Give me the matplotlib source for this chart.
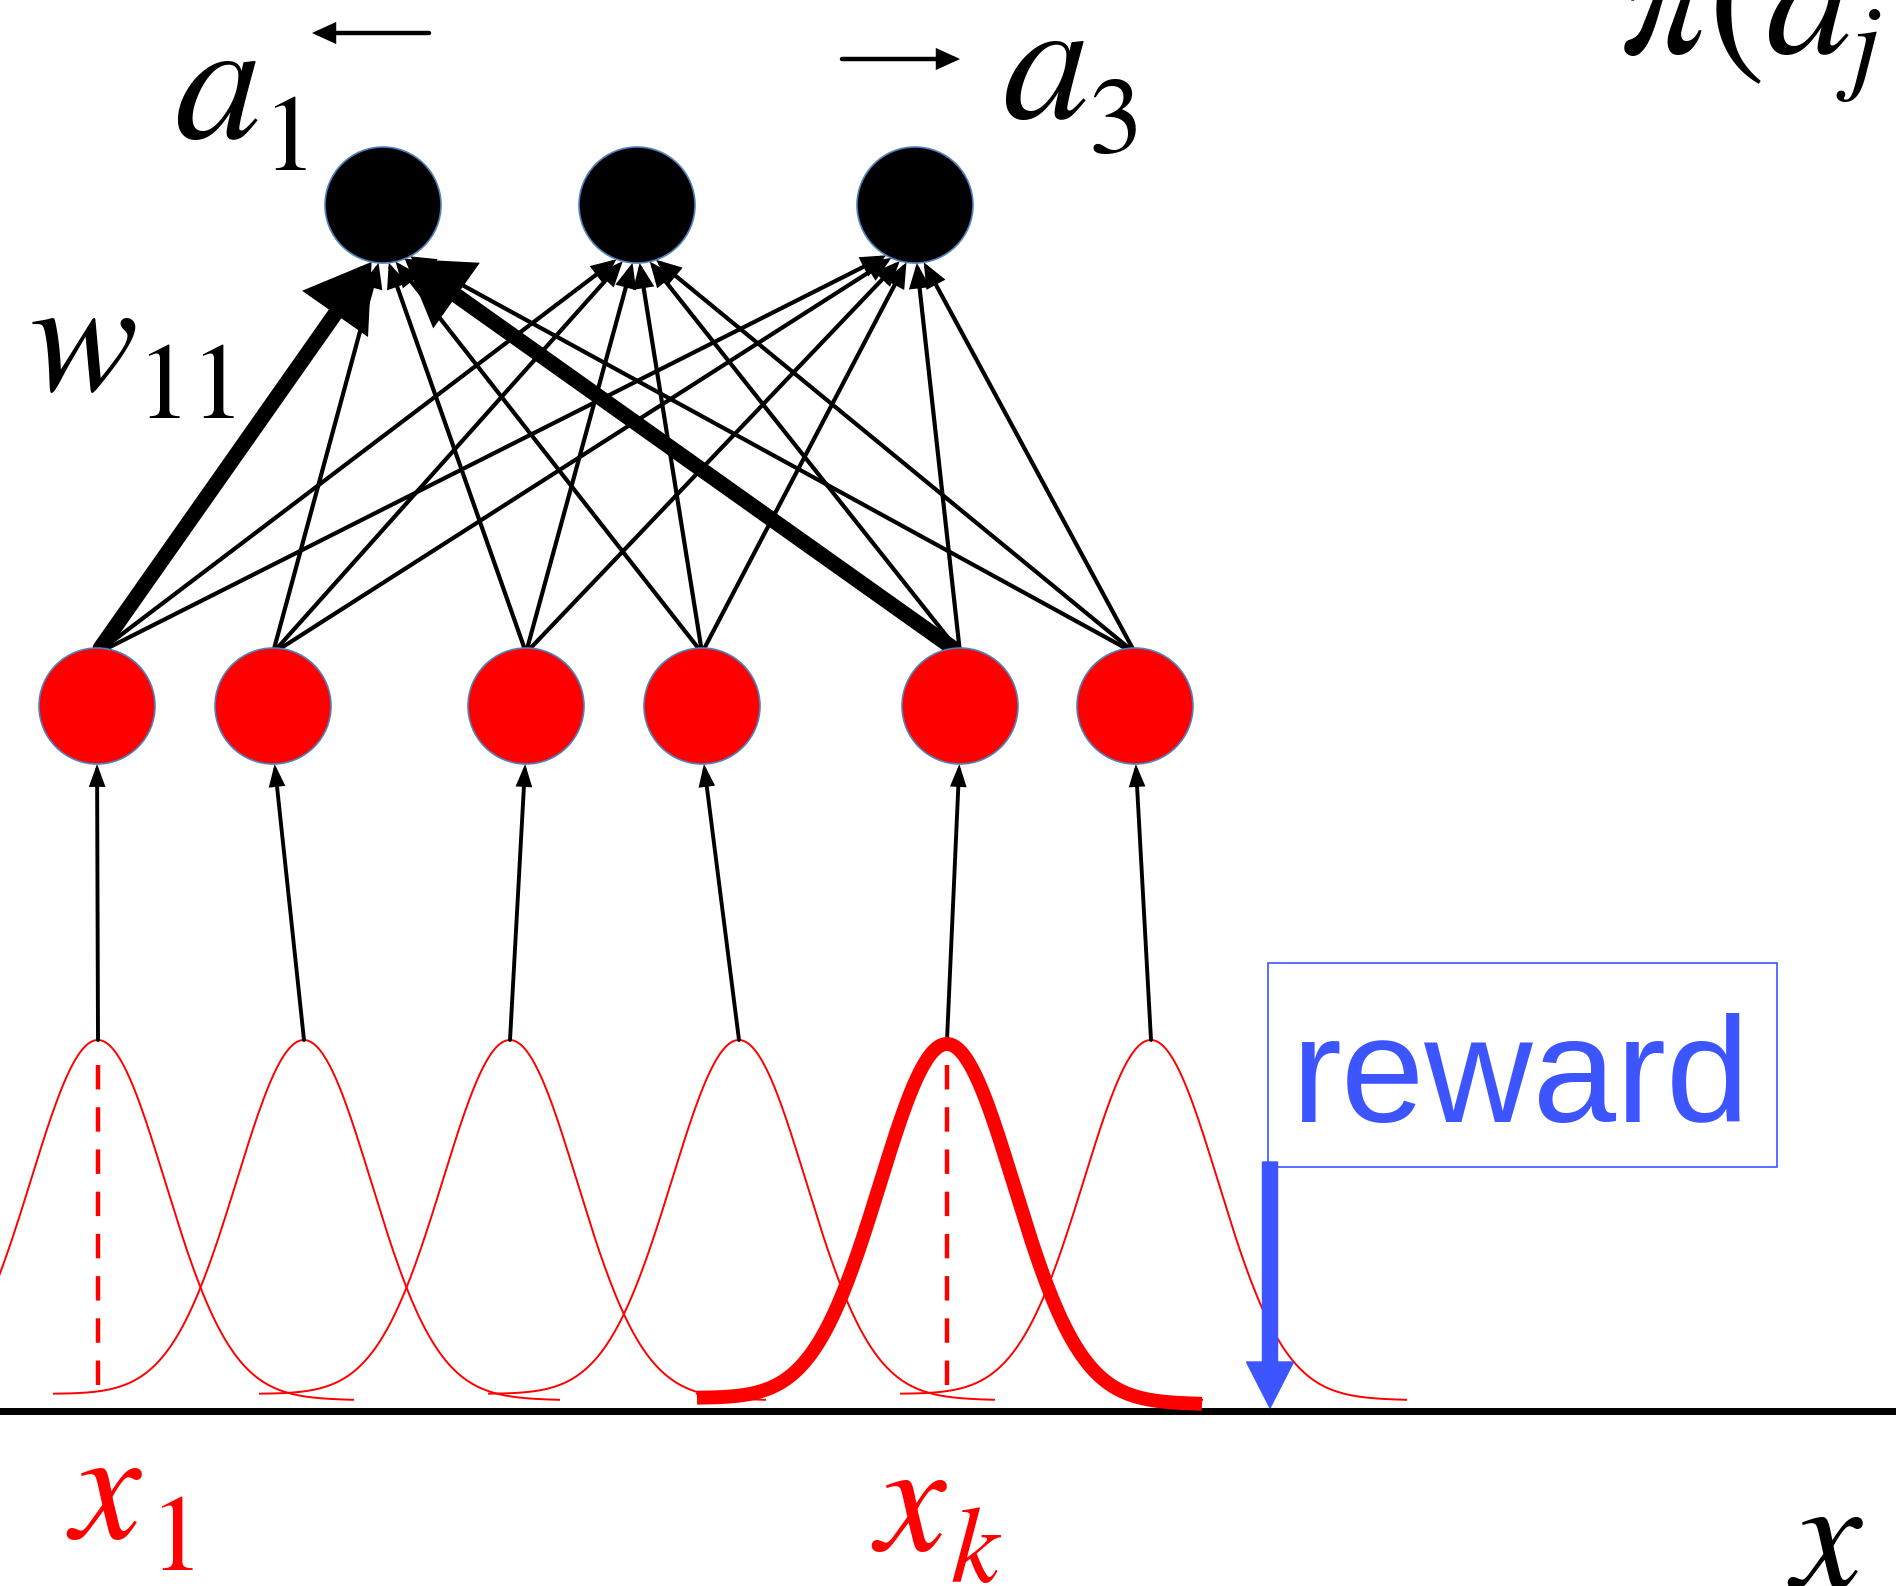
import matplotlib.pyplot as plt
import numpy as np
from matplotlib.patches import Circle, FancyArrowPatch, Rectangle

plt.rcParams['mathtext.fontset'] = 'stix'

# layout of the network (pixel coords of the 1896x1586 picture, y down)
red_x = [97, 273, 526, 702, 960, 1135]
red_y = 706
black_x = [383, 637, 915]
black_y = 205
node_r = 58

# gaussian receptive fields
peak_x = [98, 304, 510, 739, 947, 1151]
peak_y = 1040
base_y = 1397
sigma = 67
left_span = 250
right_span = 255
active = 4          # x_k
axis_y = 1411

# thick (strong) weights: (input, action)
thick = [(0, 0), (4, 0)]

# labels: (main symbol, x, baseline, size, subscript, sub x, sub baseline, colour)
labels = [
    (r'$a$', 174, 138, 125, r'$1$', 262, 170, 'k'),
    (r'$a$', 1002, 118, 125, r'$3$', 1088, 152, 'k'),
    (r'$\pi(a$', 1620, 53, 125, r'$j$', 1836, 80, 'k'),
    (r'$w$', 29, 390, 117, r'$11$', 136, 418, 'k'),
    (r'$x$', 66, 1538, 114, r'$1$', 149, 1570, 'red'),
    (r'$x$', 871, 1550, 114, r'$k$', 950, 1582, 'red'),
    (r'$x$', 1787, 1587, 114, '', 0, 0, 'k'),
]
sub_size = 78

blue = '#3c55ff'
edge_blue = '#4f81bd'

fig = plt.figure(figsize=(18.96, 15.86), dpi=100)
ax = fig.add_axes([0, 0, 1, 1])
ax.set_xlim(0, 1896)
ax.set_ylim(1586, 0)
ax.axis('off')


def arrow(p0, p1, lw, hl, hw, color='k', z=3):
    a = FancyArrowPatch(p0, p1, arrowstyle='-|>,head_length=%g,head_width=%g' % (hl, hw),
                        mutation_scale=1, lw=lw, color=color, shrinkA=0, shrinkB=0,
                        joinstyle='miter', zorder=z)
    ax.add_patch(a)


def on_circle(cx, cy, tx, ty, squeeze):
    dx, dy = (tx - cx) * squeeze, ty - cy
    n = np.hypot(dx, dy)
    return cx + node_r * dx / n, cy + node_r * dy / n


# axis line
ax.plot([0, 1896], [axis_y, axis_y], color='k', lw=5, zorder=2)

# gaussians
for i, c in enumerate(peak_x):
    xs = np.linspace(c - left_span, c + right_span, 300)
    ys = base_y + 0.012 * (xs - c) - (base_y - peak_y) * np.exp(-(xs - c) ** 2 / (2 * sigma ** 2))
    ax.plot(xs, ys, color='red', lw=1.4, zorder=2)
    if i == active:
        ax.plot(xs, ys + 4, color='red', lw=10, solid_capstyle='butt', zorder=4)

# dashed markers under x_1 and x_k
for i in [0, active]:
    ax.plot([peak_x[i], peak_x[i]], [peak_y + 25, base_y], color='red', lw=3.2,
            linestyle=(0, (5.5, 4)), zorder=3)

# input arrows: gaussian peak -> red node
for px, rx in zip(peak_x, red_x):
    end = on_circle(rx, red_y, px, peak_y, 0.3)
    arrow((px, peak_y), end, 2.8, 11, 4)

# weights: red node -> black node
for i, rx in enumerate(red_x):
    for j, bx in enumerate(black_x):
        start = on_circle(rx, red_y, bx, black_y, 0.1)
        end = on_circle(bx, black_y, rx, red_y, 0.35)
        if (i, j) in thick:
            arrow(start, end, 11, 30, 19, z=5)
        else:
            arrow(start, end, 3, 13, 5.5)

# nodes
for rx in red_x:
    ax.add_patch(Circle((rx, red_y), node_r, facecolor='red', edgecolor=edge_blue, lw=1.2, zorder=6))
for bx in black_x:
    ax.add_patch(Circle((bx, black_y), node_r, facecolor='black', edgecolor=edge_blue, lw=1.2, zorder=6))

# direction arrows above actions
arrow((429, 33), (312, 33), 3.2, 12, 5.5)
arrow((842, 59), (960, 59), 3.2, 12, 5.5)

# labels
for s, x, y, size, sub, sx, sy, col in labels:
    ax.text(x, y, s, fontsize=size, ha='left', va='baseline', color=col)
    if sub:
        ax.text(sx, sy, sub, fontsize=sub_size, ha='left', va='baseline', color=col)

# reward box and arrow
ax.add_patch(Rectangle((1268, 963), 509, 204, fill=False, edgecolor=blue, lw=1.2, zorder=3))
ax.text(1292, 1122, 'reward', fontsize=108, family='Liberation Sans', color=blue,
        ha='left', va='baseline')
ax.arrow(1270, 1162, 0, 246, width=15, head_width=47, head_length=46,
         length_includes_head=True, color=blue, zorder=5)

fig.savefig('out.png', dpi=100)
plt.close()
